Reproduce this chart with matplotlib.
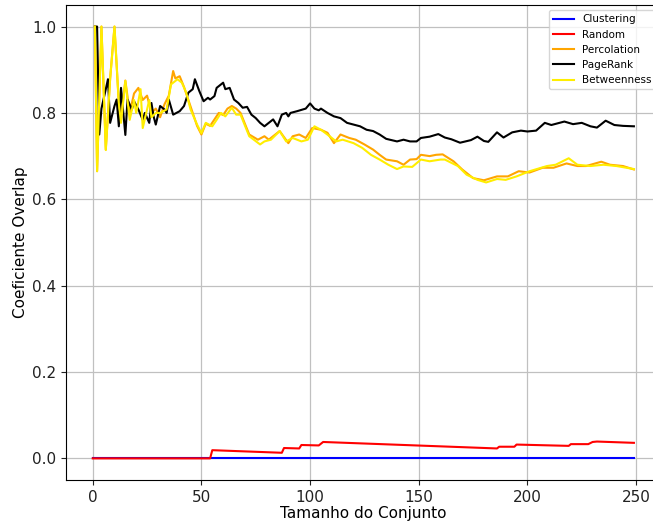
import matplotlib
matplotlib.use("Agg")
import matplotlib.pyplot as plt

# Clustering: flat at zero
clus_x = [0, 249]
clus_y = [0.0, 0.0]

# Random: small steps near zero
rand_x = [0, 54, 55, 87, 88, 95, 96, 104, 106, 186, 187, 194, 195, 219, 220, 228, 230, 232, 249]
rand_y = [0.0, 0.0, 0.019, 0.013, 0.024, 0.023, 0.031, 0.030, 0.038, 0.023, 0.027, 0.027,
          0.032, 0.029, 0.033, 0.033, 0.038, 0.039, 0.036]

# PageRank
pr_x = [1, 2, 3, 4, 6, 7, 8, 10, 11, 12, 13, 15, 16, 18, 19, 21, 23, 24, 26, 27, 28, 29, 31,
        33, 34, 35, 37, 40, 42, 44, 46, 47, 49, 51, 53, 54, 56, 57, 60, 61, 63, 65, 67, 69,
        71, 73, 75, 77, 79, 82, 83, 85, 87, 89, 90, 91, 94, 98, 100, 102, 104, 105, 108, 111,
        114, 117, 120, 123, 126, 129, 132, 135, 140, 143, 146, 149, 151, 155, 159, 162, 165,
        169, 174, 177, 180, 182, 186, 189, 193, 197, 200, 204, 208, 211, 217, 221, 225, 229,
        232, 236, 240, 244, 249]
pr_y = [1.0, 1.0, 0.75, 0.81, 0.855, 0.878, 0.777, 0.816, 0.831, 0.769, 0.858, 0.749, 0.831,
        0.808, 0.827, 0.808, 0.784, 0.80, 0.777, 0.823, 0.792, 0.773, 0.816, 0.808, 0.80,
        0.831, 0.796, 0.804, 0.816, 0.847, 0.855, 0.878, 0.851, 0.827, 0.835, 0.831, 0.839,
        0.858, 0.87, 0.855, 0.858, 0.831, 0.823, 0.812, 0.814, 0.796, 0.788, 0.777, 0.769,
        0.781, 0.785, 0.769, 0.796, 0.80, 0.792, 0.80, 0.804, 0.81, 0.822, 0.81, 0.806, 0.81,
        0.80, 0.792, 0.788, 0.777, 0.773, 0.769, 0.761, 0.758, 0.75, 0.74, 0.734, 0.738,
        0.734, 0.734, 0.742, 0.745, 0.751, 0.743, 0.739, 0.731, 0.737, 0.745, 0.735, 0.733,
        0.755, 0.743, 0.755, 0.759, 0.757, 0.759, 0.777, 0.772, 0.78, 0.774, 0.777, 0.769,
        0.766, 0.782, 0.772, 0.77, 0.769]

# Percolation
perc_x = [1, 2, 4, 6, 8, 10, 12, 13, 15, 17, 19, 21, 23, 25, 27, 29, 31, 33, 35, 37, 38, 40,
          42, 44, 46, 48, 50, 52, 54, 56, 58, 60, 62, 64, 66, 68, 70, 72, 76, 79, 81, 83, 86,
          90, 92, 95, 98, 101, 105, 108, 111, 114, 118, 121, 125, 129, 132, 135, 140, 143,
          146, 149, 151, 155, 158, 161, 166, 170, 175, 180, 186, 191, 196, 201, 207, 212,
          218, 223, 227, 234, 238, 244, 249]
perc_y = [1.0, 0.665, 1.0, 0.715, 0.88, 1.0, 0.82, 0.79, 0.875, 0.80, 0.845, 0.858, 0.83,
          0.84, 0.80, 0.81, 0.79, 0.82, 0.84, 0.897, 0.88, 0.885, 0.86, 0.83, 0.80, 0.77,
          0.75, 0.775, 0.77, 0.785, 0.80, 0.795, 0.81, 0.816, 0.81, 0.80, 0.775, 0.75, 0.738,
          0.746, 0.738, 0.746, 0.758, 0.73, 0.746, 0.75, 0.742, 0.765, 0.761, 0.754, 0.73,
          0.75, 0.742, 0.738, 0.727, 0.715, 0.703, 0.692, 0.688, 0.68, 0.692, 0.693, 0.703,
          0.70, 0.703, 0.704, 0.688, 0.669, 0.649, 0.644, 0.653, 0.653, 0.665, 0.662, 0.673,
          0.673, 0.683, 0.677, 0.677, 0.687, 0.68, 0.677, 0.669]

# Betweenness
betw_x = [1, 2, 4, 6, 8, 10, 12, 13, 15, 17, 19, 20, 22, 23, 26, 27, 29, 31, 34, 36, 39, 41,
          43, 45, 48, 50, 52, 55, 57, 59, 61, 64, 66, 68, 72, 77, 79, 82, 86, 89, 92, 96, 99,
          102, 105, 109, 112, 115, 120, 124, 128, 132, 136, 140, 143, 147, 151, 155, 160,
          162, 168, 172, 177, 181, 186, 190, 195, 201, 209, 213, 219, 223, 229, 235, 241, 249]
betw_y = [1.0, 0.665, 1.0, 0.714, 0.878, 1.0, 0.823, 0.777, 0.874, 0.784, 0.83, 0.80, 0.855,
          0.765, 0.83, 0.79, 0.80, 0.80, 0.808, 0.866, 0.878, 0.87, 0.847, 0.808, 0.773, 0.753,
          0.777, 0.769, 0.784, 0.80, 0.792, 0.812, 0.796, 0.796, 0.746, 0.727, 0.734, 0.738,
          0.758, 0.734, 0.742, 0.734, 0.738, 0.769, 0.761, 0.746, 0.734, 0.738, 0.73, 0.719,
          0.703, 0.692, 0.68, 0.67, 0.676, 0.675, 0.692, 0.688, 0.692, 0.692, 0.677, 0.657,
          0.645, 0.639, 0.647, 0.645, 0.653, 0.665, 0.677, 0.68, 0.695, 0.68, 0.677, 0.68,
          0.677, 0.67]

fig = plt.figure(figsize=(6.53, 5.22), dpi=100)
# axes run a little past the right edge, as in the cropped original
ax = fig.add_axes([0.1006, 0.0805, 0.9116, 0.910])

ax.plot(clus_x, clus_y, color="blue", linewidth=1.5, label="Clustering")
ax.plot(rand_x, rand_y, color="red", linewidth=1.5, label="Random")
ax.plot(perc_x, perc_y, color="orange", linewidth=1.5, label="Percolation")
ax.plot(pr_x, pr_y, color="black", linewidth=1.5, label="PageRank")
ax.plot(betw_x, betw_y, color="#ffee00", linewidth=1.5, label="Betweenness")

ax.set_xlim(-12.45, 261.45)
ax.set_ylim(-0.05, 1.05)
ax.set_xticks([0, 50, 100, 150, 200, 250])
ax.set_yticks([0.0, 0.2, 0.4, 0.6, 0.8, 1.0])
ax.tick_params(labelsize=11, colors="#222222")
ax.grid(True, color="#c0c0c0", linewidth=0.9)
ax.set_xlabel("Tamanho do Conjunto", fontsize=11, labelpad=1)
ax.set_ylabel("Coeficiente Overlap", fontsize=11, labelpad=3)
ax.legend(loc="upper right", fontsize=7.5)

fig.savefig("out.png", dpi=100)
